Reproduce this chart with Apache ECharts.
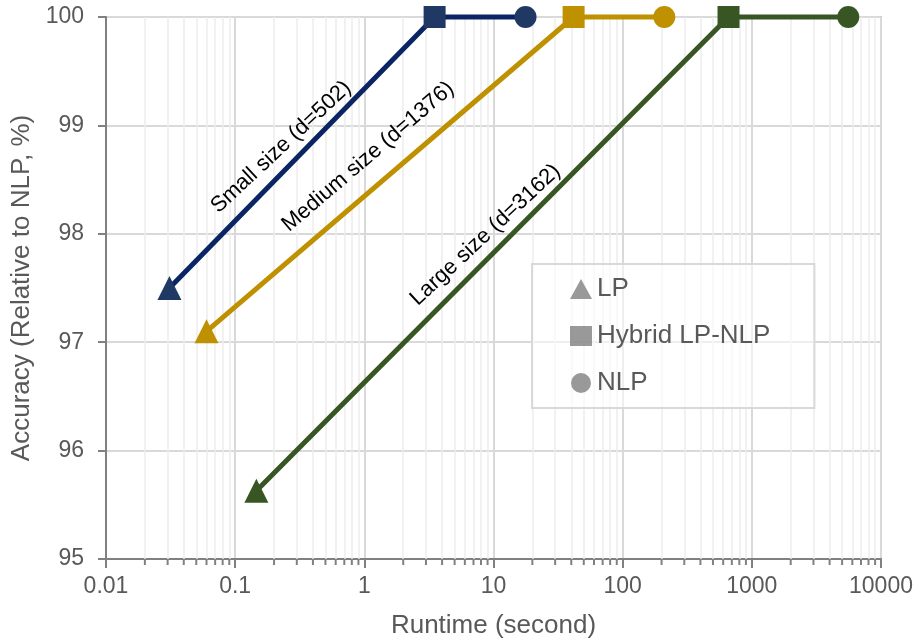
<!DOCTYPE html>
<html>
<head>
<meta charset="utf-8">
<script src="https://cdn.jsdelivr.net/npm/echarts@6/dist/echarts.min.js"></script>
<style>html,body{margin:0;padding:0;background:#fff}#c{width:917px;height:644px}</style>
</head>
<body>
<div id="c"></div>
<script>
// ---- data ----
var sizeNames = ['Small size (d=502)', 'Medium size (d=1376)', 'Large size (d=3162)'];
var methods = ['LP', 'Hybrid LP-NLP', 'NLP'];
var smallRuntime = [0.031, 3.5, 17.7];
var smallAccuracy = [97.5, 100, 100];
var mediumRuntime = [0.06, 41.7, 210];
var mediumAccuracy = [97.1, 100, 100];
var largeRuntime = [0.146, 660, 5580];
var largeAccuracy = [95.63, 100, 100];
var xTicks = [0.01, 0.1, 1, 10, 100, 1000, 10000];
var yTicks = [95, 96, 97, 98, 99, 100];

// ---- styling ----
var FONT = 'Liberation Sans, Arial, sans-serif';
var lineColors = ['#0b2463', '#bf9000', '#375623'];
var markColors = ['#1f3864', '#bf9000', '#375623'];
var methodSymbols = ['triangle', 'rect', 'circle'];
var methodSizes = [24, 22, 22];
// annotation anchors (data coords) and rotation
var annot = [
  {coord: [0.227, 98.8], rot: 43},
  {coord: [1.07, 98.71], rot: 40.5},
  {coord: [8.67, 97.99], rot: 43}
];

var minorVals = [];
for (var d = 0; d < xTicks.length - 1; d++) {
  for (var k = 2; k <= 9; k++) minorVals.push(+(xTicks[d] * k).toPrecision(3));
}

function buildSeries(idx, xs, ys) {
  return {
    name: sizeNames[idx],
    type: 'line',
    clip: false,
    z: 5,
    lineStyle: {color: lineColors[idx], width: 5},
    itemStyle: {color: markColors[idx], opacity: 1},
    symbolKeepAspect: true,
    data: xs.map(function (x, i) {
      return {value: [x, ys[i]], symbol: methodSymbols[i], symbolSize: methodSizes[i]};
    })
  };
}

var chart = echarts.init(document.getElementById('c'), null, {renderer: 'canvas'});
var series = [
  {
    name: '_minor', type: 'line', data: [], silent: true, z: 1,
    markLine: {
      silent: true, symbol: 'none', animation: false,
      label: {show: false},
      lineStyle: {color: '#ededed', width: 1.5, type: 'solid'},
      emphasis: {disabled: true},
      data: minorVals.map(function (v) { return {xAxis: v}; })
    }
  },
  buildSeries(0, smallRuntime, smallAccuracy),
  buildSeries(1, mediumRuntime, mediumAccuracy),
  buildSeries(2, largeRuntime, largeAccuracy)
];
methods.forEach(function (m, i) {
  series.push({name: m, type: 'scatter', data: [], itemStyle: {color: '#808080'}, symbol: methodSymbols[i]});
});

chart.setOption({
  animation: false,
  textStyle: {fontFamily: FONT},
  grid: {left: 106, right: 36, top: 17, bottom: 82, show: true, borderColor: '#8c8c8c', borderWidth: 1.5, containLabel: false},
  xAxis: {
    type: 'log', logBase: 10, min: xTicks[0], max: xTicks[xTicks.length - 1],
    name: 'Runtime (second)', nameLocation: 'middle', nameGap: 54,
    nameTextStyle: {fontSize: 26, color: '#595959', fontFamily: FONT},
    axisLine: {show: true, lineStyle: {color: '#808080', width: 2}},
    axisTick: {show: true, length: 9, inside: false, lineStyle: {color: '#808080', width: 2}},
    axisLabel: {fontSize: 23, color: '#595959', margin: 16, fontFamily: FONT,
      formatter: function (v) { return String(+v.toPrecision(6)); }},
    splitLine: {show: true, lineStyle: {color: '#d9d9d9', width: 2}}
  },
  yAxis: {
    type: 'value', min: yTicks[0], max: yTicks[yTicks.length - 1], interval: 1,
    name: 'Accuracy (Relative to NLP, %)', nameLocation: 'middle', nameGap: 69,
    nameTextStyle: {fontSize: 26, color: '#595959', fontFamily: FONT},
    axisLine: {show: true, lineStyle: {color: '#808080', width: 2}},
    axisTick: {show: true, length: 8, inside: false, lineStyle: {color: '#808080', width: 2}},
    axisLabel: {fontSize: 23, color: '#595959', margin: 22, fontFamily: FONT},
    splitLine: {show: true, lineStyle: {color: '#d9d9d9', width: 2}}
  },
  legend: {
    orient: 'vertical', left: 532, top: 264, z: 20,
    padding: [12, 44, 12, 38],
    backgroundColor: 'rgba(255,255,255,0.55)',
    borderColor: '#d9d9d9', borderWidth: 2,
    itemWidth: 22, itemHeight: 20, itemGap: 21,
    textStyle: {fontSize: 26, color: '#595959', fontFamily: FONT},
    data: methods.map(function (m, i) { return {name: m, icon: methodSymbols[i]}; })
  },
  series: series
});

// annotations and minor ticks positioned through the axis scales
var g = [];
sizeNames.forEach(function (n, i) {
  var p = chart.convertToPixel({xAxisIndex: 0, yAxisIndex: 0}, annot[i].coord);
  g.push({
    type: 'text', x: p[0], y: p[1], rotation: annot[i].rot * Math.PI / 180, z: 10,
    style: {text: n, fontSize: 22, fill: '#000', fontFamily: FONT, align: 'center', verticalAlign: 'middle'}
  });
});
var yBase = chart.convertToPixel({yAxisIndex: 0}, yTicks[0]);
minorVals.forEach(function (v) {
  var x = chart.convertToPixel({xAxisIndex: 0}, v);
  g.push({type: 'line', shape: {x1: x, y1: yBase, x2: x, y2: yBase + 6}, style: {stroke: '#808080', lineWidth: 2}, z: 10});
});
chart.setOption({graphic: g});
</script>
</body>
</html>
